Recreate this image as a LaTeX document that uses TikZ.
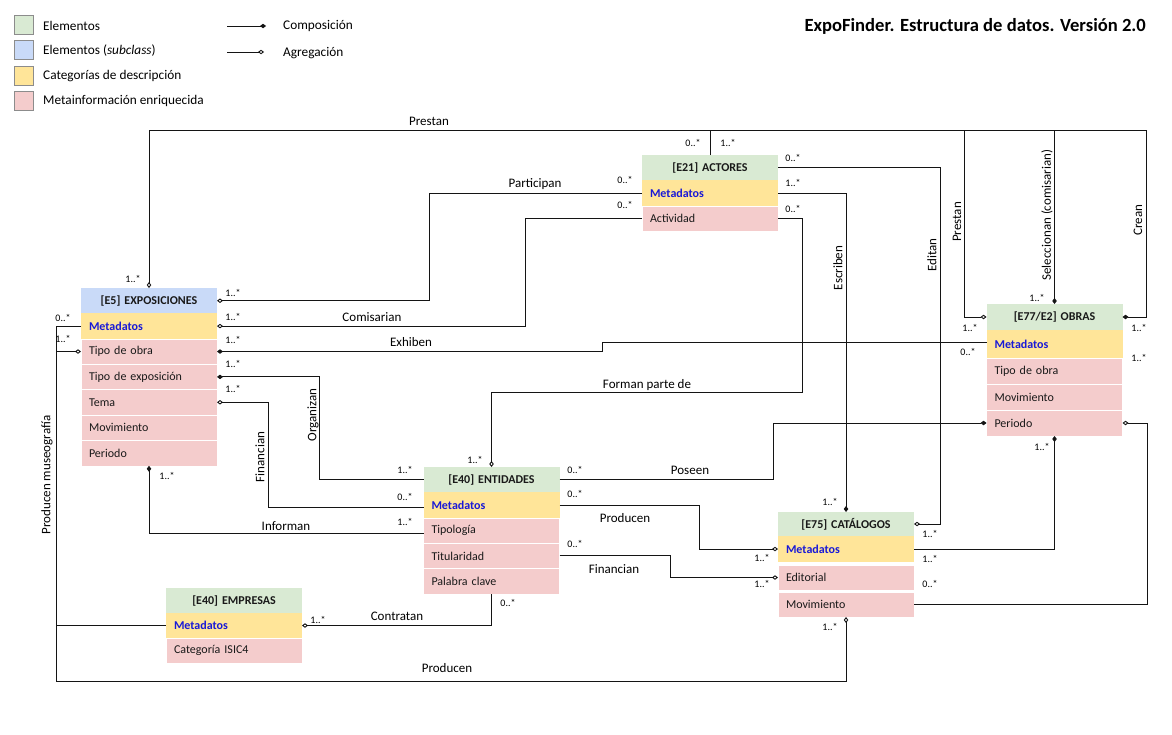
\documentclass[tikz,border=0pt]{standalone}
\usepackage{fontspec}
\setmainfont{Carlito}
\usetikzlibrary{arrows.meta}
\definecolor{elemG}{HTML}{D9EAD3}
\definecolor{elemB}{HTML}{C9DAF8}
\definecolor{catY}{HTML}{FFE599}
\definecolor{metaR}{HTML}{F4CCCC}
\definecolor{metaTxt}{RGB}{25,25,215}
\definecolor{lineC}{RGB}{20,20,20}

\begin{document}
\begin{tikzpicture}[x=1pt,y=-1pt]

\tikzset{
  row/.style={minimum height=25.4, text width=120, inner xsep=8, inner ysep=0, outer sep=0, font=\fontsize{12}{14}\selectfont, text=black!90},
  hdr/.style={row, fill=elemG, align=center, font=\fontsize{12}{14}\selectfont\bfseries},
  hdrsub/.style={hdr, fill=elemB},
  meta/.style={row, fill=catY, align=left, text=metaTxt, font=\fontsize{12}{14}\selectfont\bfseries},
  attr/.style={row, fill=metaR, align=left, draw=white, line width=0.6},
  legsq/.style={draw=black!45, minimum size=19, inner sep=0},
  legtxt/.style={anchor=west, inner sep=0, font=\fontsize{13.3}{15}\selectfont},
  rel/.style={inner sep=1, font=\fontsize{13}{15}\selectfont},
  mult/.style={inner sep=0, font=\fontsize{10}{12}\selectfont},
  link/.style={draw=lineC, line width=0.9},
  comp/.style={link, -{Diamond[length=6pt,width=4.5pt]}},
  agg/.style={link, -{Diamond[open,length=6pt,width=4.5pt]}}
}

\useasboundingbox (0,0) rectangle (1172,734);

\node[legsq, fill=elemG] (legG) at (24,25) {};
\node[legsq, fill=elemB] (legB) at (24,50) {};
\node[legsq, fill=catY] (legY) at (24,75.5) {};
\node[legsq, fill=metaR] (legR) at (24,100.5) {};
\node[legtxt] (legGt) at (43,26) {Elementos};
\node[legtxt] (legBt) at (43,51) {Elementos (\textit{subclass})};
\node[legtxt] (legYt) at (43,76) {Categorías de descripción};
\node[legtxt] (legRt) at (43,101) {Metainformación enriquecida};

\coordinate (compA) at (227,26);
\coordinate (compB) at (266,26);
\draw[comp] (compA) -- (compB);
\coordinate (aggA) at (227,52);
\coordinate (aggB) at (264,52);
\draw[agg] (aggA) -- (aggB);
\node[legtxt] (compT) at (283,26) {Composición};
\node[legtxt] (aggT) at (283,53) {Agregación};

\node[anchor=east, inner sep=0, font=\fontsize{18.6}{20}\selectfont\bfseries] (title) at (1146,26) {ExpoFinder. Estructura de datos. Versión 2.0};

\node[hdrsub] (expoH) at (149,300.7) {[E5] EXPOSICIONES};
\node[meta] (expoM) at (149,326.1) {Metadatos};
\node[attr] (expoR1) at (149,351.5) {Tipo de obra};
\node[attr] (expoR2) at (149,376.9) {Tipo de exposición};
\node[attr] (expoR3) at (149,402.3) {Tema};
\node[attr] (expoR4) at (149,427.7) {Movimiento};
\node[attr] (expoR5) at (149,453.1) {Periodo};

\node[hdr] (actH) at (710,167.7) {[E21] ACTORES};
\node[meta] (actM) at (710,193.1) {Metadatos};
\node[attr] (actR) at (710,218.5) {Actividad};

\node[hdr, minimum height=26] (obrasH) at (1054.5,317) {[E77/E2] OBRAS};
\node[meta, minimum height=28] (obrasM) at (1054.5,344) {Metadatos};
\node[attr, minimum height=26] (obrasR1) at (1054.5,371) {Tipo de obra};
\node[attr, minimum height=26] (obrasR2) at (1054.5,397) {Movimiento};
\node[attr, minimum height=26] (obrasR3) at (1054.5,423) {Periodo};

\node[hdr] (entH) at (491.5,479.7) {[E40] ENTIDADES};
\node[meta] (entM) at (491.5,505.1) {Metadatos};
\node[attr] (entR1) at (491.5,530.5) {Tipología};
\node[attr] (entR2) at (491.5,555.9) {Titularidad};
\node[attr] (entR3) at (491.5,581.3) {Palabra clave};

\node[hdr, minimum height=24] (catH) at (846,524) {[E75] CATÁLOGOS};
\node[meta, minimum height=26] (catM) at (846,549) {Metadatos};
\node[attr, minimum height=25] (catR1) at (846,577.5) {Editorial};
\node[attr, minimum height=25] (catR2) at (846,604.5) {Movimiento};

\node[hdr, minimum height=25] (empH) at (234,600.5) {[E40] EMPRESAS};
\node[meta, minimum height=25] (empM) at (234,625.5) {Metadatos};
\node[attr, minimum height=25] (empR1) at (234,650.5) {Categoría ISIC4};

\draw[link] (actH.north) -- ++(0,-25) coordinate (topA);
\draw[agg] (topA) -| (expoH.north);
\draw[comp] (topA) -| (obrasH.north);
\draw[agg] (topA) -| ([xshift=-22]obrasH.west) -- (obrasH.west);
\draw[comp] (topA) -| ([xshift=24]obrasH.east) -- (obrasH.east);
\draw[agg] (actM.west) -- ++(-213,0) |- (expoH.east);
\draw[agg] (actR.west) -- ++(-117,0) |- (expoM.east);
\draw[comp] ([yshift=2]obrasM.west) -- ++(-384,0) |- (expoR1.east);
\draw[comp] (entH.west) -- ++(-104,0) |- (expoR2.east);
\draw[agg] ([yshift=-2]entM.west) -- ++(-155,0) |- (expoR3.east);
\draw[comp] ([yshift=-3]entR1.west) -| (expoR5.south);
\draw[agg] (actR.east) -- ++(24,0) -- ++(0,174) -| (entH.north);
\draw[comp] (actM.east) -| (catH.north);
\draw[agg] (actH.east) -- ++(162,0) |- (catH.east);
\draw[comp] (entH.east) -- ++(214,0) |- (obrasR3.west);
\draw[agg] (entM.east) -- ++(140,0) |- (catM.west);
\draw[agg] (entR2.east) -- ++(111,0) |- (catR1.west);
\draw[comp] (catM.east) -| (obrasR3.south);
\draw[agg] (catR2.east) -- ++(233,0) |- (obrasR3.east);
\draw[link] (expoM.west) -- ++(-25,0) coordinate (museo);
\draw[agg] (museo) |- (expoR1.west);
\draw[link] (museo) |- (empM.west);
\draw[agg] (museo) -- ++(0,355) -| (catR2.south);
\draw[agg] (entR3.south) |- (empM.east);

\node[mult] (m01) at (133,279) {1..*};
\node[mult] (m02) at (693,143) {0..*};
\node[mult] (m03) at (728,143) {1..*};
\node[mult] (m04) at (793,158) {0..*};
\node[mult] (m05) at (793,183) {1..*};
\node[mult] (m06) at (793,209) {0..*};
\node[mult] (m07) at (625,180) {0..*};
\node[mult] (m08) at (625,205) {0..*};
\node[mult] (m09) at (233,293) {1..*};
\node[mult] (m10) at (233,317) {1..*};
\node[mult] (m11) at (233,340) {1..*};
\node[mult] (m12) at (233,364) {1..*};
\node[mult] (m13) at (233,389) {1..*};
\node[mult] (m14) at (63,318) {0..*};
\node[mult] (m15) at (63,339) {1..*};
\node[mult] (m16) at (167,476) {1..*};
\node[mult] (m17) at (405,470) {1..*};
\node[mult] (m18) at (405,497) {0..*};
\node[mult] (m19) at (405,522) {1..*};
\node[mult] (m20) at (475,460) {1..*};
\node[mult] (m21) at (575,470) {0..*};
\node[mult] (m22) at (575,494) {0..*};
\node[mult] (m23) at (575,544) {0..*};
\node[mult] (m24) at (508,603) {0..*};
\node[mult] (m25) at (318,620) {1..*};
\node[mult] (m26) at (830,502) {1..*};
\node[mult] (m27) at (762,558) {1..*};
\node[mult] (m28) at (762,584) {1..*};
\node[mult] (m29) at (930,534) {1..*};
\node[mult] (m30) at (930,559) {1..*};
\node[mult] (m31) at (930,584) {0..*};
\node[mult] (m32) at (830,627) {1..*};
\node[mult] (m33) at (1037,298) {1..*};
\node[mult] (m34) at (970,328) {1..*};
\node[mult] (m35) at (968,352) {0..*};
\node[mult] (m36) at (1139,328) {1..*};
\node[mult] (m37) at (1139,358) {1..*};
\node[mult] (m38) at (1042,447) {1..*};

\node[rel] (r01) at (429,121) {Prestan};
\node[rel] (r02) at (535,184) {Participan};
\node[rel] (r03) at (372,317) {Comisarian};
\node[rel] (r04) at (411,342) {Exhiben};
\node[rel] (r05) at (647,385) {Forman parte de};
\node[rel, rotate=90] (r06) at (313,415) {Organizan};
\node[rel, rotate=90] (r07) at (260,457) {Financian};
\node[rel] (r08) at (286,526) {Informan};
\node[rel] (r09) at (690,470) {Poseen};
\node[rel] (r10) at (625,518) {Producen};
\node[rel] (r11) at (614,569) {Financian};
\node[rel] (r12) at (397,616) {Contratan};
\node[rel] (r13) at (447,668) {Producen};
\node[rel, rotate=90] (r14) at (47,475) {Producen museografía};
\node[rel, rotate=90] (r15) at (838,268) {Escriben};
\node[rel, rotate=90] (r16) at (932,255) {Editan};
\node[rel, rotate=90] (r17) at (957,222) {Prestan};
\node[rel, rotate=90] (r18) at (1047,215) {Seleccionan (comisarian)};
\node[rel, rotate=90] (r19) at (1138,220) {Crean};

\end{tikzpicture}
\end{document}
